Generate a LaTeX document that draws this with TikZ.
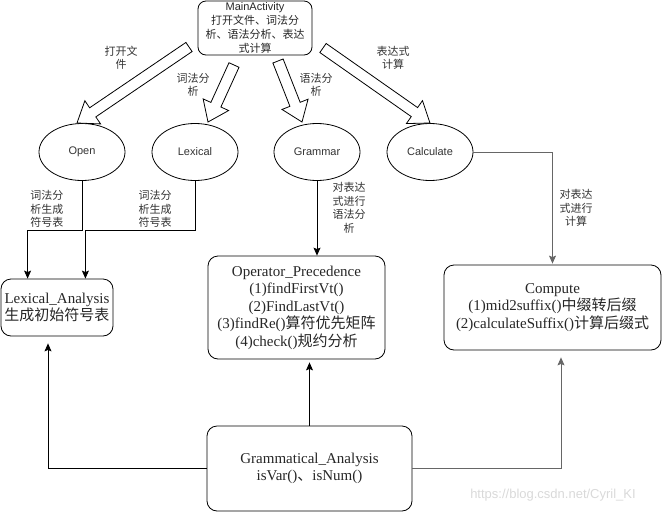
\documentclass[tikz,border=0pt]{standalone}
\usepackage{fontspec}
\setmainfont{Liberation Serif}
\newfontfamily\cjk{Noto Sans CJK SC}
\newfontfamily\lab{Liberation Sans}
\usepackage{tikz}
\usetikzlibrary{shapes.geometric, calc, arrows.meta}
\tikzset{
  box/.style={draw, rounded corners=10pt, align=center, inner sep=0pt, text=black!85,
    font=\fontsize{15}{17.5}\selectfont},
  oval/.style={draw, ellipse, minimum width=86pt, minimum height=57pt, inner sep=0pt,
    text=black!80, font=\lab\fontsize{11}{13}\selectfont},
  lbl/.style={align=center, text=black!80, font=\cjk\fontsize{11}{13.5}\selectfont},
  link/.style={-{Stealth[length=8pt, width=7pt, inset=1.5pt]}},
}
% hollow block arrow from #1 to #2
\newcommand{\fatarrow}[2]{%
  \coordinate (hb) at ($(#2)!19pt!(#1)$);
  \draw[fill=white] ($(#1)!5.5pt!90:(#2)$) -- ($(hb)!5.5pt!90:(#2)$) -- ($(hb)!14pt!90:(#2)$)
    -- (#2) -- ($(hb)!14pt!-90:(#2)$) -- ($(hb)!5.5pt!-90:(#2)$) -- ($(#1)!5.5pt!-90:(#2)$) -- cycle;
}

\begin{document}
\begin{tikzpicture}[x=1pt, y=-1pt, line width=0.8pt]
\useasboundingbox (0,0) rectangle (662,512);

\node[box, rounded corners=8pt, minimum width=114pt, minimum height=54pt,
  font=\lab\fontsize{11}{13.8}\selectfont] (main) at (255,28)
  {MainActivity\\ \cjk 打开文件、词法分\\ \cjk 析、语法分析、表达\\ \cjk 式计算};

\node[oval] (open) at (82,152) {Open};
\node[oval] (lexical) at (195,152) {Lexical};
\node[oval] (grammar) at (317,152) {Grammar};
\node[oval] (calc) at (430,152) {Calculate};

\node[box, minimum width=112pt, minimum height=57pt] (lexan) at (57,307.5)
  {Lexical\_Analysis\\ {\cjk 生成初始符号表}};
\node[box, minimum width=177pt, minimum height=103pt] (oppre) at (296.5,307.5)
  {Operator\_Precedence\\ (1)findFirstVt()\\ (2)FindLastVt()\\
   (3)findRe(){\cjk 算符优先矩阵}\\ (4)check(){\cjk 规约分析}};
\node[box, minimum width=217pt, minimum height=85pt] (compute) at (552.5,307.5)
  {Compute\\ (1)mid2suffix(){\cjk 中缀转后缀}\\ (2)calculateSuffix(){\cjk 计算后缀式}};
\node[box, minimum width=205pt, minimum height=85pt] (gram) at (309.5,468.5)
  {Grammatical\_Analysis\\ isVar(){\cjk 、}isNum()};

% block arrows
\coordinate (openTail) at (189,47);   \coordinate (openTip) at (77,123);
\coordinate (lexTail) at (234,65);    \coordinate (lexTip) at (208,122);
\coordinate (gramTail) at (278,61);   \coordinate (gramTip) at (302,122);
\coordinate (calcTail) at (323,48);   \coordinate (calcTip) at (430,123);
\fatarrow{openTail}{openTip}
\fatarrow{lexTail}{lexTip}
\fatarrow{gramTail}{gramTip}
\fatarrow{calcTail}{calcTip}

\node[lbl] at (121,58) {打开文\\件};
\node[lbl] at (193,85) {词法分\\析};
\node[lbl] at (316,85) {语法分\\析};
\node[lbl] at (393,58) {表达式\\计算};

% line arrows
\draw[link] (open.south) -- ++(0,49) -| ([xshift=27pt]lexan.north west);
\draw[link] (lexical.south) -- ++(0,49) -| ([xshift=-28pt]lexan.north east);
\draw[link] (grammar.south) -- (grammar.south |- oppre.north);
\draw[link, black!60, shorten >=1pt] (calc.east) -| (compute.north);
\draw[link, shorten >=3pt] (gram.north) -- (gram.north |- oppre.south);
\draw[link, shorten >=7pt] (gram.west) -| ([xshift=-9pt]lexan.south);
\draw[link, black!60, shorten >=7pt] (gram.east) -| ([xshift=8.5pt]compute.south);

\node[lbl] at (47,209) {词法分\\析生成\\符号表};
\node[lbl] at (155,209) {词法分\\析生成\\符号表};
\node[lbl] at (349,208) {对表达\\式进行\\语法分\\析};
\node[lbl] at (576,208) {对表达\\式进行\\计算};

\node[text=black!15, font=\lab\fontsize{13}{15}\selectfont] (mark) at (553,495)
  {https://blog.csdn.net/Cyril\_KI};
\end{tikzpicture}
\end{document}
